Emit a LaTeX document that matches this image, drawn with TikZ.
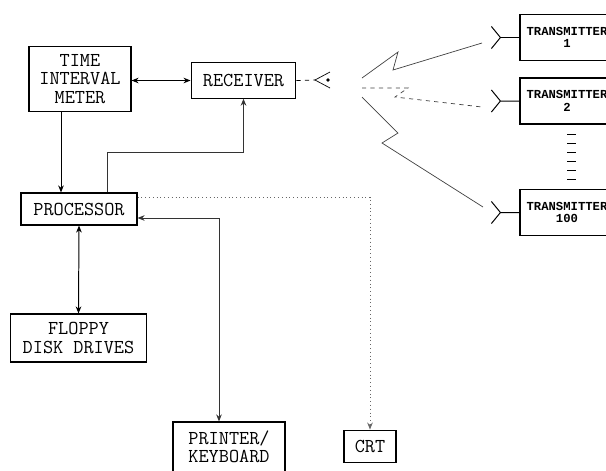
\documentclass[tikz,border=0pt]{standalone}
\usepackage{fontspec}
\newfontfamily\txfont{Liberation Mono}
\usetikzlibrary{arrows.meta}
\begin{document}
\begin{tikzpicture}[x=0.025cm, y=-0.025cm, line width=0.7pt, >={Stealth[length=5pt,width=4pt]},
    font=\ttfamily\fontsize{14}{13}\selectfont,
    blk/.style={draw, fill=white, line width=0.8pt, inner sep=1pt, align=center},
    tx/.style={blk, minimum width=2.35cm, minimum height=1.15cm,
      font=\txfont\bfseries\fontsize{8.7}{9}\selectfont},
    bolt/.style={line width=0.5pt, black!75}]
  \useasboundingbox (0,0) rectangle (606,470);
  % ---- local station ----
  \node[blk, minimum width=2.55cm, minimum height=1.62cm] (tim) at (80,79) {TIME\\INTERVAL\\METER};
  \node[blk, minimum width=2.62cm, minimum height=0.88cm] (rec) at (243.5,80.5) {RECEIVER};
  \node[blk, minimum width=2.9cm, minimum height=0.8cm] (proc) at (79,209) {PROCESSOR};
  \node[blk, minimum width=3.38cm, minimum height=1.2cm] (floppy) at (78.5,338) {FLOPPY\\DISK DRIVES};
  \node[blk, minimum width=2.8cm, minimum height=1.25cm] (printer) at (229,447) {PRINTER/\\KEYBOARD};
  \node[blk, minimum width=1.3cm, minimum height=0.82cm] (crt) at (370,446.5) {CRT};
  \draw[<->] (rec.west -| tim.east) -- (rec.west);
  \path ([xshift=-0.475cm]tim.south) coordinate (t0);
  \draw[->] (t0) -- (t0 |- proc.north);
  \coordinate (up) at (107,152);
  \draw[->, black!80] (proc.north -| up) -- (up) -| (rec.south);
  \draw[<->] (proc.south) -- (floppy.north);
  \coordinate (pk) at (219,218);
  \draw[<->, black!80] (proc.east |- pk) -- (pk) -- (pk |- printer.north);
  \coordinate (cr) at (370,197);
  \draw[->, dotted, black!60] (proc.east |- cr) -- (cr) -- (crt.north);
  % receiving antenna
  \coordinate (rant) at (315,80);
  \draw[dashed, line width=0.5pt] (rec.east) -- (rant);
  \draw[line width=0.5pt] (330,72) -- (rant) -- (330,88);
  \fill (328,80) circle (1.4pt);
  % ---- transmitters ----
  \node[tx] (tx1) at (567,37.5) {TRANSMITTER\\1};
  \node[tx] (tx2) at (567,101) {TRANSMITTER\\2};
  \node[tx] (tx100) at (567,212.5) {TRANSMITTER\\100};
  \foreach \t in {tx1,tx2,tx100}
    \draw (\t.west) -- ++(-19,0) coordinate (\t-ant) -- ++(-9,-11) (\t-ant) -- ++(-9,11);
  \foreach \y in {134,143,...,180}
    \draw[line width=0.6pt] (567,\y) -- (576,\y);
  % radio links
  \draw[bolt] (362,78) -- (398,52) -- (393,70) -- (482,43);
  \draw[bolt, dashed] (362,88) -- (408,88) -- (395,97) -- (482,107);
  \draw[bolt] (362,97) -- (398,133) -- (382,143) -- (483,207);
\end{tikzpicture}
\end{document}
